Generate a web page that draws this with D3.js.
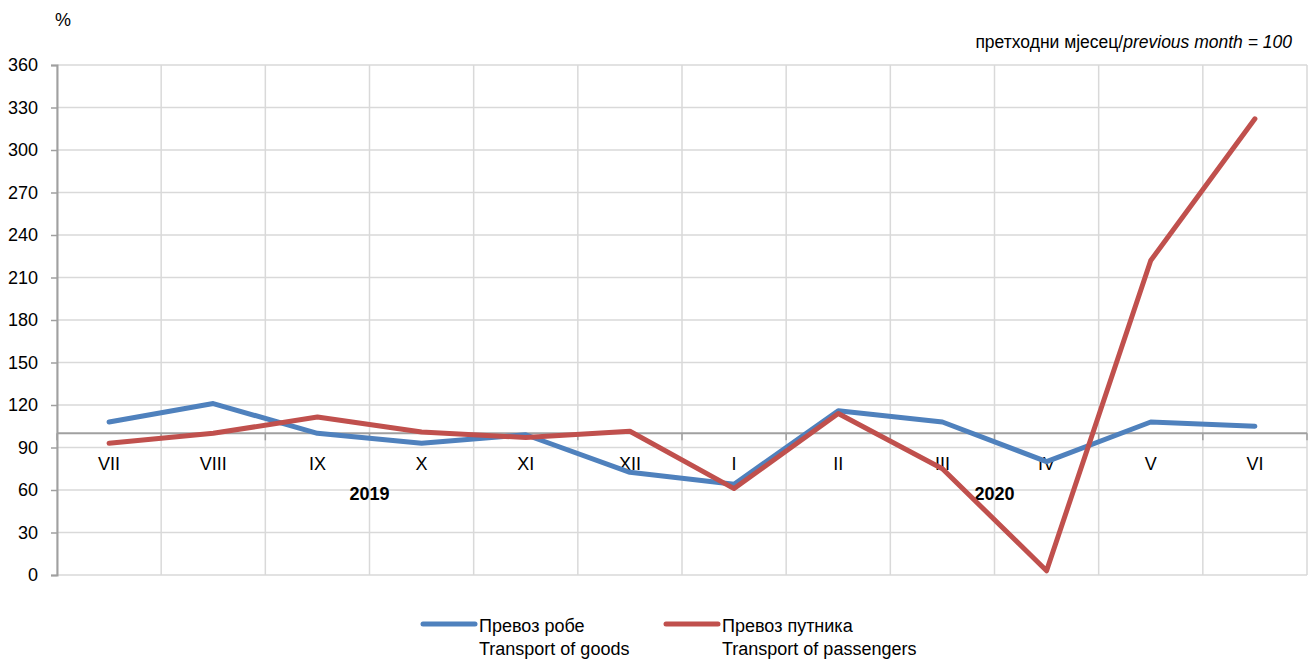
<!DOCTYPE html>
<html>
<head>
<meta charset="utf-8">
<script src="https://cdn.jsdelivr.net/npm/d3@7"></script>
<style>
  body { margin: 0; background: #fff; }
  svg { display: block; font-family: "Liberation Sans", Arial, sans-serif; }
</style>
</head>
<body>
<svg id="chart" width="1315" height="659"></svg>
<script>
// months on the category axis
const months = ["VII", "VIII", "IX", "X", "XI", "XII", "I", "II", "III", "IV", "V", "VI"];
const years = [{label: "2019", from: "VII", to: "XII"}, {label: "2020", from: "I", to: "VI"}];
// index, previous month = 100
const goods = [108, 121, 100, 93, 99, 72.5, 64, 116, 108, 80, 108, 105];
const passengers = [93, 100, 111.5, 101, 97, 101.5, 61, 114, 75, 3, 222, 322];
const yTicks = d3.range(0, 361, 30);

const seriesNames = [
    {cyr: "Превоз робе", lat: "Transport of goods", color: "#4F81BD", values: goods},
    {cyr: "Превоз путника", lat: "Transport of passengers", color: "#C0504D", values: passengers}
];

const svg = d3.select("#chart");
const plot = {left: 57, right: 1307, top: 65, bottom: 575};

let x = d3.scaleBand().domain(months).range([plot.left, plot.right]);
let y = d3.scaleLinear().domain([0, 360]).range([plot.bottom, plot.top]);

// horizontal grid
svg.append("g").selectAll("line").data(yTicks).enter().append("line")
    .attr("x1", plot.left).attr("x2", plot.right)
    .attr("y1", d => y(d)).attr("y2", d => y(d))
    .attr("stroke", "#d9d9d9").attr("stroke-width", 1.5);

// vertical grid at the band edges
let edges = months.map(m => x(m)).concat([plot.right]);
svg.append("g").selectAll("line").data(edges).enter().append("line")
    .attr("x1", d => d).attr("x2", d => d)
    .attr("y1", plot.top).attr("y2", plot.bottom)
    .attr("stroke", "#d9d9d9").attr("stroke-width", 1.5);

// value axis
let yAxis = d3.axisLeft(y).tickValues(yTicks).tickSize(6).tickPadding(13);
let ya = svg.append("g").attr("transform", `translate(${plot.left},0)`).call(yAxis);
ya.select(".domain").attr("stroke", "#a0a0a0").attr("stroke-width", 2);
ya.selectAll(".tick line").attr("stroke", "#a0a0a0").attr("stroke-width", 1.5);
ya.selectAll(".tick text").attr("font-size", 18).attr("fill", "#000")
    .attr("font-family", "Liberation Sans, Arial, sans-serif");

// category axis crossing at 100
let axisY = y(100);
svg.append("line").attr("x1", plot.left).attr("x2", plot.right)
    .attr("y1", axisY).attr("y2", axisY)
    .attr("stroke", "#a0a0a0").attr("stroke-width", 2);
svg.append("g").selectAll("line").data(edges).enter().append("line")
    .attr("x1", d => d).attr("x2", d => d)
    .attr("y1", axisY).attr("y2", axisY + 7)
    .attr("stroke", "#a0a0a0").attr("stroke-width", 1.5);

svg.append("g").selectAll("text").data(months).enter().append("text")
    .attr("x", d => x(d) + x.bandwidth() / 2)
    .attr("y", axisY + 37)
    .attr("text-anchor", "middle")
    .attr("font-size", 18)
    .text(d => d);

svg.append("g").selectAll("text").data(years).enter().append("text")
    .attr("x", d => (x(d.from) + x(d.to) + x.bandwidth()) / 2)
    .attr("y", axisY + 67)
    .attr("text-anchor", "middle")
    .attr("font-size", 18)
    .attr("font-weight", "bold")
    .text(d => d.label);

// lines
let line = d3.line()
    .x((d, i) => x(months[i]) + x.bandwidth() / 2)
    .y(d => y(d));

svg.append("g").selectAll("path").data(seriesNames).enter().append("path")
    .attr("d", d => line(d.values))
    .attr("fill", "none")
    .attr("stroke", d => d.color)
    .attr("stroke-width", 5)
    .attr("stroke-linejoin", "round")
    .attr("stroke-linecap", "round");

// labels
svg.append("text").attr("x", 55).attr("y", 26).attr("font-size", 18).text("%");

let note = svg.append("text").attr("x", 1292).attr("y", 48)
    .attr("text-anchor", "end").attr("font-size", 17.5);
note.append("tspan").text("претходни мјесец/");
note.append("tspan").attr("font-style", "italic").text("previous month = 100");

// legend
let legendX = [423, 666];
let lg = svg.append("g").selectAll("g").data(seriesNames).enter().append("g")
    .attr("transform", (d, i) => `translate(${legendX[i]},624)`);
lg.append("line").attr("x1", 0).attr("x2", 52).attr("y1", 0).attr("y2", 0)
    .attr("stroke", d => d.color).attr("stroke-width", 5).attr("stroke-linecap", "round");
lg.append("text").attr("x", 56).attr("y", 8).attr("font-size", 18).text(d => d.cyr);
lg.append("text").attr("x", 56).attr("y", 31).attr("font-size", 18).text(d => d.lat);
</script>
</body>
</html>
